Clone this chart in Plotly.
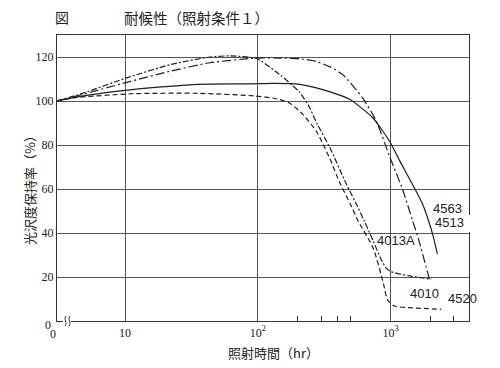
import plotly.graph_objects as go

# ---- data (hours, retention %) ----
X0 = 3.07  # position of "0 hr" at the broken origin of the log axis

p_hours = [X0, 4.8, 10.3, 21.8, 43.6, 61.5, 98, 150, 183, 207, 246, 278, 348, 467, 555, 640, 740, 850, 930, 1000, 1390, 2030]
p_vals  = [100, 103.5, 110.5, 116.5, 120, 120.5, 119.3, 111.5, 107, 104, 97, 90, 79, 62, 53, 45, 36.5, 28, 24, 22.5, 20.5, 19]

q_hours = [X0, 4.8, 10.3, 21.8, 43.6, 98, 150, 207, 276, 350, 437, 614, 780, 982, 1230, 1470, 1630, 1965]
q_vals  = [100, 103, 108.5, 113.5, 117.4, 119.5, 119.5, 119.2, 118, 115.5, 112, 101.5, 91, 75, 60, 45.5, 37, 19]

r_hours = [X0, 4.5, 10, 20, 35, 87, 130, 207, 276, 366, 492, 735, 982, 1169, 1750, 2080, 2256]
r_vals  = [100, 102, 104.8, 106.5, 107.6, 107.8, 108, 107.6, 106, 103.8, 100.8, 92.4, 81.8, 73, 53, 39.4, 30.5]

s_hours = [X0, 4.2, 11.3, 35, 95, 140, 174, 218, 278, 348, 414, 500, 570, 743, 885, 950, 1072, 1463, 2415]
s_vals  = [100, 101.5, 103.3, 103.5, 102.3, 101, 99, 94, 86, 74, 63, 53, 45.5, 33, 17, 9.5, 6.8, 6, 5.3]

x_tickvals = [10, 100, 1000]
x_ticktext = ["10", "10<sup>2</sup>", "10<sup>3</sup>"]
x_minor = [200, 300, 400, 500, 2000, 3000]
y_tickvals = [20, 40, 60, 80, 100, 120]
y_ticktext = ["20", "40", "60", "80", "100", "120"]

labels = ["4563", "4513", "4013A", "4010", "4520"]

# ---- figure ----
OFF = 8                      # page body margin
W, H = 500 - OFF, 368 - OFF
L, R, T, B = 57 - OFF, 31, 35 - OFF, 47
PW, PH = W - L - R, H - T - B


def px(xs):
    """screen x pixel -> paper"""
    return (xs - OFF - L) / PW


def py(ys):
    """screen y pixel -> paper"""
    return (H + OFF - B - ys) / PH


LINE = "#1e1e1e"
fig = go.Figure()
styles = [
    (p_hours, p_vals, "6px,2px,2px,2px"),
    (q_hours, q_vals, "9px,3px,2px,3px"),
    (r_hours, r_vals, "solid"),
    (s_hours, s_vals, "5px,3px"),
]
for hx, vy, dash in styles:
    fig.add_trace(go.Scatter(x=hx, y=vy, mode="lines",
                             line=dict(color=LINE, width=1.2, dash=dash, shape="spline", smoothing=0.6),
                             hoverinfo="skip", showlegend=False))

serif = "Liberation Serif"
sans = "Liberation Sans"
cjk = "Noto Sans CJK JP"

fig.update_layout(
    width=W, height=H,
    margin=dict(l=L, r=R, t=T, b=B),
    paper_bgcolor="white", plot_bgcolor="white",
    showlegend=False,
    xaxis=dict(type="log", range=[0.4876, 3.5916],
               tickvals=x_tickvals, ticktext=x_ticktext,
               showgrid=True, gridcolor="#555", gridwidth=1,
               showline=True, linecolor="#333", linewidth=1.2, mirror=True,
               ticks="", zeroline=False,
               tickfont=dict(family=serif, size=12, color="#222"),
               minor=dict(tickvals=x_minor, ticks="inside", ticklen=5, tickcolor="#333", showgrid=False)),
    yaxis=dict(range=[0, 130], tickvals=y_tickvals, ticktext=y_ticktext,
               showgrid=True, gridcolor="#555", gridwidth=1,
               showline=True, linecolor="#333", linewidth=1.2, mirror=True,
               ticks="", zeroline=False,
               tickfont=dict(family=serif, size=12, color="#222")),
)

ann = []
ann.append(dict(text="図", x=px(62), y=py(17), font=dict(family=cjk, size=14, color="#222")))
ann.append(dict(text="耐候性（照射条件１）", x=px(196), y=py(17),
                font=dict(family=cjk, size=14.5, color="#222")))
ann.append(dict(text="光沢度保持率（%）", x=px(29), y=py(187), textangle=-90,
                font=dict(family=cjk, size=13, color="#222")))
ann.append(dict(text="照射時間（hr）", x=px(273), y=py(352),
                font=dict(family=cjk, size=13, color="#222")))
ann.append(dict(text="0", x=px(48), y=py(325), font=dict(family=serif, size=12, color="#222")))
ann.append(dict(text="0", x=px(53), y=py(334), font=dict(family=serif, size=12, color="#222")))
lab_pos = [(447, 208), (449, 223), (396, 240), (424, 293), (462, 298)]
for t, (lx, ly) in zip(labels, lab_pos):
    ann.append(dict(text=t, x=px(lx), y=py(ly), font=dict(family=sans, size=13, color="#222")))
for a in ann:
    a.update(xref="paper", yref="paper", showarrow=False, xanchor="center", yanchor="middle")
fig.update_layout(annotations=ann)

shapes = []
# gap in right frame line next to labels
shapes.append(dict(type="rect", xref="paper", yref="paper", x0=px(466), x1=px(473), y0=py(232), y1=py(215),
                   fillcolor="white", line=dict(width=0), layer="above"))
# axis break on the bottom line
shapes.append(dict(type="rect", xref="paper", yref="paper", x0=px(63), x1=px(71), y0=py(324), y1=py(318),
                   fillcolor="white", line=dict(width=0), layer="above"))
for dx in (0, 4):
    path = "M {a},{b} C {c},{d} {e},{f} {g},{h}".format(
        a=px(66 + dx), b=py(316), c=px(63 + dx), d=py(319), e=px(68 + dx), f=py(323), g=px(65 + dx), h=py(326))
    shapes.append(dict(type="path", xref="paper", yref="paper", path=path,
                       line=dict(color="#333", width=1), layer="above"))
fig.update_layout(shapes=shapes)

fig.write_html("out.html")
